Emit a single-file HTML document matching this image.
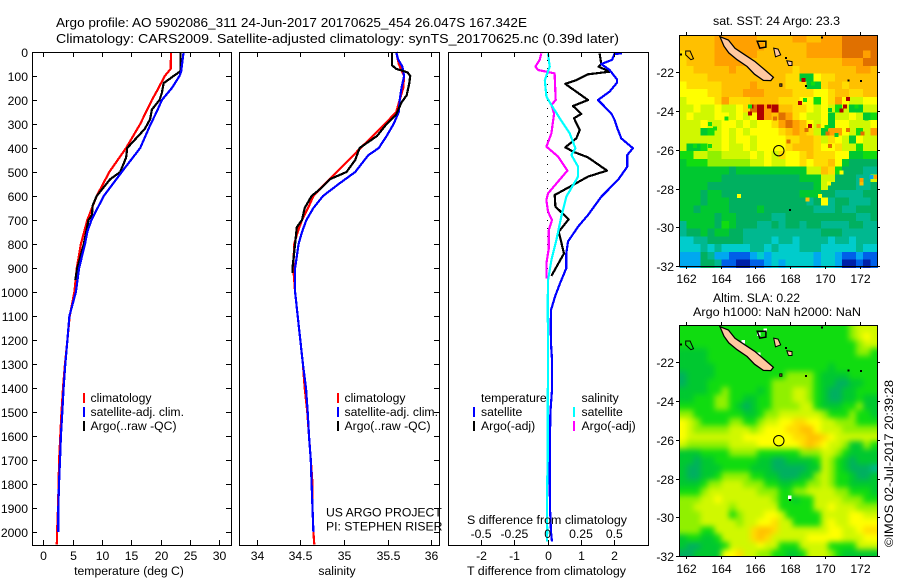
<!DOCTYPE html>
<html lang="en">
<head>
<meta charset="utf-8">
<title>Argo profile 5902086_311</title>
<style>
html,body{margin:0;padding:0;background:#fff;}
svg{display:block;}
text{font-family:"Liberation Sans",sans-serif;font-size:12.2px;fill:#000;}
text.big{font-size:12.9px;}
</style>
</head>
<body>
<svg id="chart" xmlns="http://www.w3.org/2000/svg" width="900" height="580" viewBox="0 0 900 580">
  <defs>
    <filter id="sla-smooth" filterUnits="userSpaceOnUse" x="665" y="310" width="230" height="262" color-interpolation-filters="sRGB">
      <feGaussianBlur stdDeviation="2.8"/>
      <feComponentTransfer><feFuncA type="linear" slope="20"/></feComponentTransfer>
    </filter>
    <clipPath id="sla-clip"><rect x="679" y="325" width="198" height="231"/></clipPath>
  </defs>
  <rect x="0" y="0" width="900" height="580" fill="#fff"/>
  <g id="layer-maps"></g>
  <g id="layer-profiles"></g>
  <g id="layer-axes"></g>

  <text class="big" x="56" y="27" textLength="471" lengthAdjust="spacingAndGlyphs">Argo profile: AO 5902086_311 24-Jun-2017 20170625_454 26.047S 167.342E</text>
  <text class="big" x="56" y="43" textLength="563" lengthAdjust="spacingAndGlyphs">Climatology: CARS2009. Satellite-adjusted climatology: synTS_20170625.nc (0.39d later)</text>

  <text x="129" y="575" text-anchor="middle">temperature (deg C)</text>
  <text x="337" y="575" text-anchor="middle">salinity</text>
  <text x="467" y="575" textLength="159" lengthAdjust="spacingAndGlyphs">T difference from climatology</text>
  <text x="467" y="524" textLength="160" lengthAdjust="spacingAndGlyphs">S difference from climatology</text>

  <g>
    <rect x="83" y="393" width="2" height="10" fill="#f00"/>
    <rect x="83" y="407" width="2" height="10" fill="#00f"/>
    <rect x="83" y="421" width="2" height="10" fill="#000"/>
    <text x="90.500" y="402">climatology</text>
    <text x="90.500" y="416">satellite-adj. clim.</text>
    <text x="90.500" y="430">Argo(..raw -QC)</text>
  </g>
  <g>
    <rect x="337" y="393" width="2" height="10" fill="#f00"/>
    <rect x="337" y="407" width="2" height="10" fill="#00f"/>
    <rect x="337" y="421" width="2" height="10" fill="#000"/>
    <text x="344.500" y="402">climatology</text>
    <text x="344.500" y="416">satellite-adj. clim.</text>
    <text x="344.500" y="430">Argo(..raw -QC)</text>
  </g>
  <text x="326" y="516.500">US ARGO PROJECT</text>
  <text x="326" y="530.500">PI: STEPHEN RISER</text>

  <g>
    <text x="481" y="402">temperature</text>
    <rect x="473" y="407" width="2" height="10" fill="#00f"/>
    <rect x="473" y="421" width="2" height="10" fill="#000"/>
    <text x="481" y="416">satellite</text>
    <text x="481" y="430">Argo(-adj)</text>
    <text x="581.500" y="402">salinity</text>
    <rect x="573" y="407" width="2" height="10" fill="#0ff"/>
    <rect x="573" y="421" width="2" height="10" fill="#f0f"/>
    <text x="581.500" y="416">satellite</text>
    <text x="581.500" y="430">Argo(-adj)</text>
  </g>

  <text x="713" y="25" textLength="127" lengthAdjust="spacingAndGlyphs">sat. SST: 24 Argo: 23.3</text>
  <text x="713" y="302" textLength="87" lengthAdjust="spacingAndGlyphs">Altim. SLA: 0.22</text>
  <text x="693" y="316" textLength="168" lengthAdjust="spacingAndGlyphs">Argo h1000: NaN h2000: NaN</text>
  <text transform="translate(893,547) rotate(-90)" textLength="167" lengthAdjust="spacingAndGlyphs">©IMOS 02-Jul-2017 20:39:28</text>
</svg>

<script>
// ---------- profile data (depth in m) ----------
const tempClimDepths = [0,70,100,165,200,300,400,500,600,700,800,900,1000,1100,1200,1300,1400,1500,1600,1700,1800,1900,2000,2052];
const tempClimValues = [21.76,21.7,20.7,19.3,18.5,16.5,14.1,11.25,9.1,7.5,6.4,5.7,5.3,4.5,4.1,3.7,3.35,3.1,2.9,2.7,2.6,2.5,2.35,2.3];
const tempSatDepths = [0,80,100,150,200,250,300,400,500,600,700,750,800,900,1000,1100,1200,1300,1400,1500,1600,1700,1800,1900,2000];
const tempSatValues = [23.9,23.5,23.2,21.9,20.2,19.3,18.3,16.5,13.35,10.3,8.2,7.5,7.1,6.1,5.55,4.45,4.1,3.75,3.45,3.24,3.0,2.85,2.67,2.55,2.55];
const tempArgoDepths = [0,80,100,130,170,200,240,280,320,400,440,500,530,600,640,680,700,800,900,950];
const tempArgoValues = [23.35,23.35,22.2,20.5,20.2,19.8,18.5,18.2,17.3,14.3,14.1,13.1,11.4,9.1,8.4,8.3,7.7,6.9,5.8,5.45];

const salClimDepths = [0,50,100,150,200,250,300,400,500,550,600,650,700,750,800,900,1000,1100,1200,1300,1400,1500,1600,1700,1800,1900,2000,2052];
const salClimValues = [35.6,35.63,35.69,35.68,35.64,35.6,35.47,35.19,34.92,34.78,34.65,34.59,34.52,34.47,34.43,34.42,34.44,34.47,34.5,34.53,34.55,34.58,34.6,34.62,34.64,34.64,34.65,34.66];
const salSatDepths = [0,30,60,100,150,200,250,300,350,400,430,500,550,600,650,700,750,800,900,1000,1100,1200,1300,1400,1500,1600,1700,1800,1900,2000];
const salSatValues = [35.6,35.62,35.67,35.69,35.66,35.64,35.63,35.57,35.49,35.4,35.28,35.13,34.94,34.76,34.65,34.57,34.52,34.48,34.44,34.44,34.47,34.5,34.53,34.565,34.585,34.6,34.62,34.63,34.64,34.65];
const salArgoDepths = [0,55,70,85,100,130,180,210,260,300,350,400,450,500,530,570,600,650,700,730,800,900,920];
const salArgoValues = [35.55,35.55,35.6,35.73,35.76,35.75,35.72,35.66,35.6,35.49,35.38,35.18,35.13,35.03,34.84,34.73,34.63,34.55,34.52,34.46,34.44,34.41,34.41];

const diffTSatDepths = [6,8,33,50,75,114,128,165,200,256,283,325,360,401,429,478,533,603,679,728,790,839,901,964,1019,1075,1144,1214,1283,1408,1500,1600,1700,1800,1900,2000,2040];
const diffTSatValues = [2.23,2.01,1.93,1.61,1.86,2.08,2.08,1.86,1.51,1.91,2.01,2.11,2.21,2.56,2.39,2.39,2.11,1.61,1.21,0.91,0.61,0.56,0.56,0.37,0.22,0.1,0.09,0.1,0.13,0.13,0.08,0.07,0.06,0.06,0.07,0.1,0.13];
const diffTArgoDepths = [6,50,61,82,93,117,133,200,225,258,276,325,360,397,415,439,494,519,554,596,644,697,749,839,933];
const diffTArgoValues = [1.56,1.61,1.53,1.86,1.21,0.86,0.53,1.21,0.76,1.01,0.79,0.96,0.86,0.53,0.76,1.21,1.78,1.21,0.76,0.21,0.23,0.63,0.33,0.49,0.11];
const diffSSatDepths = [6,61,117,186,221,276,339,401,429,478,519,603,686,783,867,950,1047,1250,1500,1700,1850,2000,2040];
const diffSSatValues = [0.002,0.015,-0.022,-0.01,0.028,0.09,0.165,0.208,0.178,0.228,0.228,0.14,0.102,0.065,0.028,0.003,0,0.003,0,0,-0.006,-0.004,-0.005];
const diffSArgoDepths = [6,33,61,75,89,200,221,256,339,394,436,494,589,617,665,700,742,818,881,943];
const diffSArgoValues = [-0.048,-0.06,-0.092,-0.072,0.052,0.06,0.028,0.048,0.028,-0.01,0.078,0.148,0.002,-0.01,0.002,0.032,0.008,0.008,-0.01,-0.01];

// ---------- tick labels ----------
const depthTicks = [0,100,200,300,400,500,600,700,800,900,1000,1100,1200,1300,1400,1500,1600,1700,1800,1900,2000];
const tempTicks = [0,5,10,15,20,25,30];
const salTicks = [34,34.5,35,35.5,36];
const diffTTicks = [-2,-1,0,1,2];
const diffSTicks = [-0.5,-0.25,0,0.25,0.5];
const lonTicks = [162,164,166,168,170,172];
const latTicks = [-22,-24,-26,-28,-30,-32];

// ---------- map data: one letter per 0.4 degree cell, a = coldest/lowest level ... p = warmest/highest ----------
const levelColors = ['#0020a8','#0060e8','#00a8f0','#00cccc','#00b890','#00b060','#00c830','#10dc10','#90f000','#d0f800','#ffff00','#ffdc00','#ffc000','#ffa000','#e07000','#b00000'];
const sstRows = [
"mmmmmnnnnnnmmmmmnnmmnnnooooo","mmmmmnnnnnnnmmmmmmnnnnnooooo","lmmmmnnnnnnmmmmmmmnnnnnooono",
"lmmmmnnnnnmmmmmmmmmmmmmnnnoo","llmmmmmnmmmmmmmmlmmmmmmmmnnm","llllmmmmmmmmmmmllggkllmmmmmm",
"klllllmmmmnmmmmlllgglmmlmmmm","kkkkllmmmnnnmmmmlllkklmmllmm","jkkkklnlllmmmmlllkkhklnkjjkk",
"jjkjjkjjklopnpmmllkjkjhjggjj","jkjjjkkjkjkpnmonlkjjkgjjkjgh","jjjkjjkkjkjkklnonmkjkgkkjjjk",
"jjjghjkjkjkkkklmnmljgnnkjhjn","jjjjjjkjkkjkkkkllmmljlkjgkjj","jgghjjkjjkjkkkklmmmlkkljjhjj",
"hhjjiijjjjkjkjlkklmlllkkgghh","ghhhiiiiiijjkjjkklkllmkgffff","gggggggfggggggggggjjmlhfffee",
"ggggggfffffffffffgggjjfffeej","ggggfffffffffffffffgjffffeef","gggfggfffffffffffgggffeeeeff",
"gggfgggfffffffffffefkeffeeef","ggfggggffffgfffffffeeefeefff","gggggfggfffffeeffffffffffeef",
"eggggfhgfffeefeffeffeeeeffee","effgfggffeeeeeeeeeeefffeeeee","ddeefffffeeeedeedeeeedeedeee",
"dddededdddeededddeeedddddedd","cccfeccbbbcdcddddddcddcbbcbb","cccffebbaabbcdcddddcddcaabab"
];
const slaRows = [
"hhhhhhhhhhhhhhhhhhhhhhhhijjj","hhhhhhhhhhhhhhhhhhhhhhhhijkj","hhhhhhhhhhhhhhhhhhhhhhhhhijj",
"gggghhhhhhhhhhhhhhhhhhhhhiih","gggghhhhhhhhhhhhhhhhhhhhhhhh","ggggghhhhhhhhhhhhhhhhghhhhhh",
"fgggghhhhhhhhhhiiiihgggghhhh","fggghhhhhhhhhiiiiiihggffgghh","gggghhihhhhghiiijjihgffgghhh",
"gghhhiihhgghhiiijjihgffgghgg","hhhhhiihgfghhiiiijjhggghhigg","iihhhhhhhgghiijjjjjjihhhihhg",
"kjihhhhiihhijjkkllkkjjiiihhh","kjiiiiijjjijkkkllmmkjjjiiiii","kjjjjjjjjkkkkkkkllmmlkjjjjjj",
"jiiiiiijjjjkkkkkklmlkjjiggih","ggghhhhiiiihhhhhhiiijjihgggg","ggfgghhhhhhggffgggghjihgfggg",
"gffggghhhhgggfffffggjihgfffe","gffgghiiiihhggfffggijihhgffg","ggghiijjjiiihhgghhiijihhgggg",
"hhhijjjjjjjiiihhiijjjjiihhhg","iiijjkjjjjjjjihhghhjjjjiiihh","iijjjjjijjjjjjhhhhhjjkjjjiii",
"iiijjjjhijjjkkjhhhhhjjjjkkjj","iiijjjjjijjkkljjhhhhjkjjkkkk","iiihhjjjjjlmmljjjjjjjkkjjkll",
"ghhgghjjjjlmljjjjjkkkkkjjjkk","gffggghjjjjkjjhhhjjjjhhhhjjj","ffggggkkljjiihhgghjjjihggggg"
];
const sstSpecks = [
[165.79,-23.77,'p'],[165.69,-24.12,'p'],[166.26,-23.98,'p'],[166.78,-23.77,'p'],[167.12,-24.38,'o'],[168.75,-22.4,'p'],
[171.33,-23.38,'p'],[170.95,-23.98,'p'],[171.14,-23.77,'p'],[171.33,-24.98,'o'],[169.13,-24.77,'p'],[172.15,-25.15,'o'],
[170.15,-25.15,'o'],[167.89,-25.58,'o'],[170.28,-25.8,'o'],[165.06,-28.37,'k'],[170.95,-27.18,'k'],[172.1,-27.73,'m'],
[172.1,-27.56,'n'],[169.71,-28.37,'k'],[170.24,-27.73,'k'],[168.98,-28.56,'m'],[172.67,-27.39,'c'],[172.92,-27.39,'n'],
[168.56,-23.57,'p'],[169.61,-24.77,'n'],[168.94,-24.98,'o'],[165.69,-23.77,'h'],[164.35,-24.38,'h'],[163.4,-24.67,'h'],
[163.68,-24.89,'h'],[162.54,-25.8,'h'],[163.4,-25.8,'h'],[168.85,-23.43,'h'],[169.32,-22.57,'h'],[170.09,-24.81,'h'],
[170.66,-25.24,'g'],[170.28,-23.94,'g'],[171.81,-23.77,'h'],[172.38,-24.38,'g']
];
const mainIsland = [[163.97,-20.16],[164.45,-20.33],[164.83,-20.76],[165.4,-21.1],[165.98,-21.45],[166.55,-21.88],[167.03,-22.26],[166.88,-22.43],[166.46,-22.42],[165.95,-22.1],[165.52,-21.7],[164.95,-21.35],[164.47,-21],[164.2,-20.65]];
const lifouIsland = [[167.05,-20.75],[167.3,-20.8],[167.45,-21.1],[167.15,-21.2]];
const mareIsland = [[167.8,-21.4],[168.1,-21.45],[168.1,-21.65],[167.9,-21.65]];
const pinesIsland = [[167.4,-22.6],[167.52,-22.6],[167.52,-22.72],[167.4,-22.72]];
const ouveaRing = [[166.1,-20.4],[166.6,-20.4],[166.6,-20.7],[166.25,-20.75]];
const chesterfieldRing = [[162,-20.9],[162.25,-20.9],[162.45,-21.3],[162.3,-21.35],[162,-21.1]];
const smallSpecks = [[161.68,-21.02],[169.75,-20.16],[171.27,-22.36],[172,-22.4],[168.85,-22.65],[167.7,-21.2],[167.93,-29.07]];
const slaMissing = [[166.55,-20.35],[167.98,-28.97],[166.2,-20.55],[165.3,-20.95],[166.2,-21.6]];
const argoLon = 167.342;
const argoLat = -26.047;

// ---------- scales ----------
const NS = 'http://www.w3.org/2000/svg';
const yDepth = d => 52 + d * 0.24;
const xTemp = t => 43.3 + t * 5.87;
const xSal = s => 256.7 + (s - 34) * 87.2;
const xDiffT = t => 547.7 + t * 33.3;
const xDiffS = s => 547.7 + s * 133.2;
const xLon = lon => 685.7 + (lon - 162) * 17.43;
const ySstLat = lat => 72.3 + (-22 - lat) * 19.37;
const ySlaLat = lat => 362.3 + (-22 - lat) * 19.37;

function make(tag, attrs, parent) {
  const el = document.createElementNS(NS, tag);
  for (const k in attrs) el.setAttribute(k, attrs[k]);
  parent.appendChild(el);
  return el;
}
const profileLayer = document.getElementById('layer-profiles');
const axisLayer = document.getElementById('layer-axes');
const mapLayer = document.getElementById('layer-maps');

function drawProfile(name, depths, values, xScale, color, width) {
  const pts = depths.map((d, i) => xScale(values[i]).toFixed(1) + ',' + yDepth(d).toFixed(1)).join(' ');
  const el = make('polyline', {points: pts, fill: 'none', stroke: color, 'stroke-width': width, 'shape-rendering': 'crispEdges', 'stroke-linejoin': 'round'}, profileLayer);
  
  
}

function drawFrame(name, x0, y0, x1, y1) {
  const el = make('rect', {x: x0 + 0.5, y: y0 + 0.5, width: x1 - x0, height: y1 - y0, fill: 'none', stroke: '#000', 'stroke-width': 1, 'shape-rendering': 'crispEdges'}, axisLayer);
  
  
}
function drawTick(name, x1, y1, x2, y2) {
  const el = make('line', {x1: x1, y1: y1, x2: x2, y2: y2, stroke: '#000', 'stroke-width': 1, 'shape-rendering': 'crispEdges'}, axisLayer);
  
  
}
function drawLabel(name, x, y, label, anchor) {
  const el = make('text', {x: x, y: y, 'text-anchor': anchor}, axisLayer);
  el.textContent = label;
  
  
}

// ---------- profile panels ----------
const zero = make('line', {x1: 547.5, y1: 52, x2: 547.5, y2: 545, stroke: '#000', 'stroke-width': 1, 'stroke-dasharray': '1 7', 'shape-rendering': 'crispEdges'}, profileLayer);



drawProfile('temperature-climatology-line', tempClimDepths, tempClimValues, xTemp, '#f00', 2.2);
drawProfile('temperature-argo-line', tempArgoDepths, tempArgoValues, xTemp, '#000', 2.2);
drawProfile('temperature-satellite-line', tempSatDepths, tempSatValues, xTemp, '#00f', 2.2);
drawProfile('salinity-climatology-line', salClimDepths, salClimValues, xSal, '#f00', 2.2);
drawProfile('salinity-satellite-line', salSatDepths, salSatValues, xSal, '#00f', 2.2);
drawProfile('salinity-argo-line', salArgoDepths, salArgoValues, xSal, '#000', 2.2);
drawProfile('t-difference-argo-line', diffTArgoDepths, diffTArgoValues, xDiffT, '#000', 2.2);
drawProfile('t-difference-satellite-line', diffTSatDepths, diffTSatValues, xDiffT, '#00f', 2.2);
drawProfile('s-difference-argo-line', diffSArgoDepths, diffSArgoValues, xDiffS, '#f0f', 2.2);
drawProfile('s-difference-satellite-line', diffSSatDepths, diffSSatValues, xDiffS, '#0ff', 2.2);

drawFrame('temperature-panel-frame', 32, 52, 231, 545);
drawFrame('salinity-panel-frame', 239, 52, 439, 545);
drawFrame('difference-panel-frame', 448, 52, 648, 545);

depthTicks.forEach(d => {
  const y = Math.round(yDepth(d)) + 0.5;
  drawTick('depth-tick-left', 32, y, 37, y);
  drawTick('depth-tick-right', 226, y, 231, y);
  drawTick('depth-tick-salinity-right', 434, y, 439, y);
  drawLabel('depth-tick-label', 28, y + 4.5, String(d), 'end');
});
tempTicks.forEach(t => {
  const x = Math.round(xTemp(t)) + 0.5;
  drawTick('temperature-tick-top', x, 52, x, 57);
  drawTick('temperature-tick-bottom', x, 540, x, 545);
  drawLabel('temperature-tick-label', x, 560, String(t), 'middle');
});
salTicks.forEach(s => {
  const x = Math.round(xSal(s)) + 0.5;
  drawTick('salinity-tick-top', x, 52, x, 57);
  drawTick('salinity-tick-bottom', x, 540, x, 545);
  drawLabel('salinity-tick-label', x, 560, String(s), 'middle');
});
diffTTicks.forEach(t => {
  const x = Math.round(xDiffT(t)) + 0.5;
  drawTick('t-difference-tick-top', x, 52, x, 57);
  drawTick('t-difference-tick-bottom', x, 540, x, 545);
  drawLabel('t-difference-tick-label', x, 560, String(t), 'middle');
});
diffSTicks.forEach(s => {
  drawLabel('s-difference-tick-label', xDiffS(s), 538, String(s), 'middle');
});

// ---------- maps ----------
const cellLonStart = 161.63;
const cellLonStep = 0.406;
const cellLatStart = -20.07;
const cellLatStep = 0.4;

function drawCells(rows, yLat, name, parent) {
  rows.forEach((row, r) => {
    for (let c = 0; c < row.length; c++) {
      const x0 = xLon(cellLonStart + c * cellLonStep);
      const x1 = xLon(cellLonStart + (c + 1) * cellLonStep);
      const y0 = yLat(cellLatStart - r * cellLatStep);
      const y1 = yLat(cellLatStart - (r + 1) * cellLatStep);
      const level = row.charCodeAt(c) - 97;
      const el = make('rect', {x: x0.toFixed(2), y: y0.toFixed(2), width: (x1 - x0 + 0.4).toFixed(2), height: (y1 - y0 + 0.4).toFixed(2), fill: levelColors[level], 'shape-rendering': 'crispEdges'}, parent);
      
      
    }
  });
}
drawCells(sstRows, ySstLat, 'sst-cell', mapLayer);

const slaClip = make('g', {'clip-path': 'url(#sla-clip)'}, mapLayer);


const slaSmooth = make('g', {filter: 'url(#sla-smooth)'}, slaClip);


drawCells(slaRows, ySlaLat, 'sla-cell', slaSmooth);

sstSpecks.forEach(s => {
  const el = make('rect', {x: xLon(s[0] - 0.12).toFixed(2), y: ySstLat(s[1] + 0.1).toFixed(2), width: 4, height: 4, fill: levelColors[s[2].charCodeAt(0) - 97], 'shape-rendering': 'crispEdges'}, mapLayer);
  
  
});
slaMissing.forEach(s => {
  const el = make('rect', {x: xLon(s[0] - 0.1).toFixed(2), y: ySlaLat(s[1] + 0.1).toFixed(2), width: 3.5, height: 3.5, fill: '#fff', 'shape-rendering': 'crispEdges'}, mapLayer);
  
  
});

function drawLand(yLat, mapName) {
  const shapes = [
    ['main-island', mainIsland, '#ffc8a0', 1.3],
    ['lifou-island', lifouIsland, '#ffc8a0', 1],
    ['mare-island', mareIsland, '#ffc8a0', 1],
    ['pines-island', pinesIsland, '#c88050', 1],
    ['ouvea-atoll', ouveaRing, 'none', 1.5],
    ['chesterfield-atoll', chesterfieldRing, 'none', 1]
  ];
  shapes.forEach(s => {
    const pts = s[1].map(p => xLon(p[0]).toFixed(1) + ',' + yLat(p[1]).toFixed(1)).join(' ');
    const el = make('polygon', {points: pts, fill: s[2], stroke: '#000', 'stroke-width': s[3]}, mapLayer);
    
    
  });
  smallSpecks.forEach(p => {
    const el = make('rect', {x: xLon(p[0]).toFixed(1), y: yLat(p[1]).toFixed(1), width: 2, height: 2, fill: '#000', 'shape-rendering': 'crispEdges'}, mapLayer);
    
    
  });
  const marker = make('circle', {cx: xLon(argoLon).toFixed(1), cy: yLat(argoLat).toFixed(1), r: 5.2, fill: 'none', stroke: '#000', 'stroke-width': 1}, mapLayer);
  
  
}
drawLand(ySstLat, 'sst-map');
drawLand(ySlaLat, 'sla-map');

function drawMapAxes(name, top, bottom, yLat, labelY) {
  drawFrame(name + '-frame', 679, top, 877, bottom);
  lonTicks.forEach(lon => {
    const x = Math.round(xLon(lon)) + 0.5;
    drawTick(name + '-lon-tick-top', x, top - 3, x, top);
    drawTick(name + '-lon-tick-bottom', x, bottom, x, bottom + 3);
    drawLabel(name + '-lon-tick-label', x, labelY, String(lon), 'middle');
  });
  latTicks.forEach(lat => {
    const y = Math.round(yLat(lat)) + 0.5;
    drawTick(name + '-lat-tick-left', 676, y, 679, y);
    drawTick(name + '-lat-tick-right', 877, y, 880, y);
    drawLabel(name + '-lat-tick-label', 674, y + 4.5, String(lat), 'end');
  });
}
drawMapAxes('sst-map', 35, 266, ySstLat, 283);
drawMapAxes('sla-map', 325, 556, ySlaLat, 573);
</script>
</body>
</html>
